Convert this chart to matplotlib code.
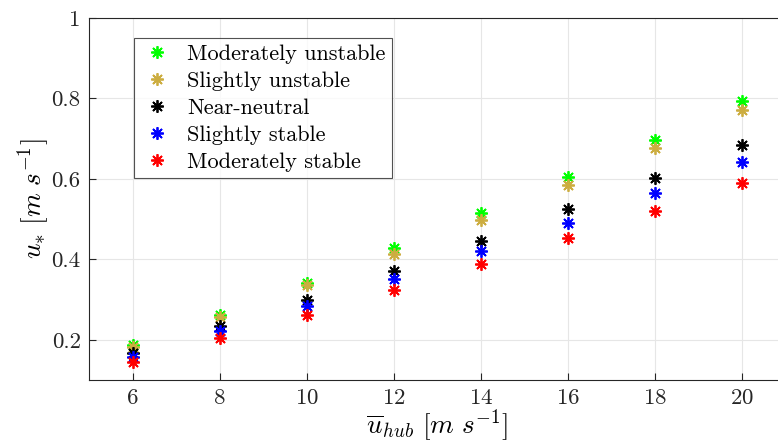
import matplotlib
matplotlib.use("Agg")
import matplotlib.pyplot as plt

plt.rcParams['mathtext.fontset'] = 'cm'
plt.rcParams['font.family'] = ['cmr10', 'DejaVu Serif']
plt.rcParams['axes.formatter.use_mathtext'] = True

u_hub = [6, 8, 10, 12, 14, 16, 18, 20]
mod_unstable = [0.188, 0.262, 0.340, 0.428, 0.514, 0.604, 0.697, 0.794]
sl_unstable = [0.182, 0.256, 0.335, 0.414, 0.498, 0.586, 0.677, 0.771]
near_neutral = [0.168, 0.235, 0.300, 0.372, 0.446, 0.524, 0.602, 0.684]
sl_stable = [0.158, 0.222, 0.285, 0.351, 0.420, 0.490, 0.565, 0.641]
mod_stable = [0.145, 0.205, 0.262, 0.324, 0.389, 0.453, 0.520, 0.590]

labels = ['Moderately unstable', 'Slightly unstable', 'Near-neutral',
          'Slightly stable', 'Moderately stable']
series = [mod_unstable, sl_unstable, near_neutral, sl_stable, mod_stable]
colors = [(0, 1, 0), (0.80, 0.68, 0.25), (0, 0, 0), (0, 0, 1), (1, 0, 0)]

fig = plt.figure(figsize=(7.78, 4.48), dpi=100)
ax = fig.add_axes([0.1144, 0.1518, 0.8953, 0.808])

for ys, c, lab in zip(series, colors, labels):
    ax.plot(u_hub, ys, linestyle='none', marker=(8, 2, 0), markersize=9,
            markeredgewidth=1.3, color=c, label=lab)

ax.set_xlim(5, 21)
ax.set_ylim(0.1, 1)
ax.set_xticks(u_hub)
ax.set_yticks([0.2, 0.4, 0.6, 0.8, 1.0])
ax.set_yticklabels(['0.2', '0.4', '0.6', '0.8', '1'])
ax.grid(True, color=(0.9, 0.9, 0.9), linewidth=0.8)
ax.set_axisbelow(True)
ax.tick_params(direction='in', labelsize=16.5, length=5, width=0.8,
               colors=(0.15, 0.15, 0.15), top=False, right=False, pad=6)
for s in ax.spines.values():
    s.set_color((0.15, 0.15, 0.15))
    s.set_linewidth(0.8)

ax.set_xlabel(r'$\overline{u}_{hub}\ [m\ s^{-1}]$', fontsize=19.5, labelpad=0)
ax.set_ylabel(r'$u_{*}\ [m\ s^{-1}]$', fontsize=19.5, labelpad=0)

leg = ax.legend(loc='upper left', bbox_to_anchor=(0.0646, 0.945), fontsize=16,
                frameon=True, fancybox=False, edgecolor=(0.15, 0.15, 0.15),
                borderaxespad=0, handlelength=1.5, handletextpad=0.6,
                labelspacing=0.33, borderpad=0.3)
leg.get_frame().set_linewidth(0.8)

fig.savefig('out.png', dpi=100)
